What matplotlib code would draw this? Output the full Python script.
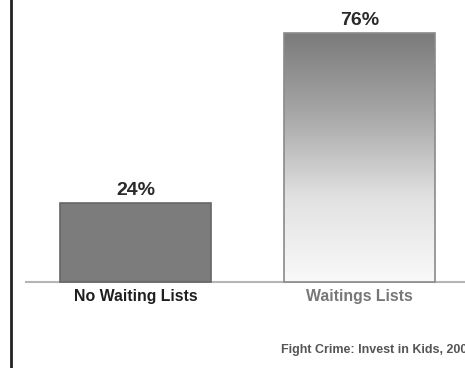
import matplotlib.pyplot as plt
import numpy as np
from matplotlib.colors import LinearSegmentedColormap

categories = ["No Waiting Lists", "Waitings Lists"]
values = [24, 76]
labels = ["24%", "76%"]
source = "Fight Crime: Invest in Kids, 2005"

fig = plt.figure(figsize=(4.65, 3.68), dpi=100)
ax = fig.add_axes([0, 0, 1, 1])
ax.set_xlim(-0.605, 1.471)
ax.set_ylim(-26.2, 86)
ax.axis("off")

x = np.arange(len(categories))
bars = ax.bar(x, values, width=0.674, color=["#7c7c7c", "none"],
              edgecolor=["#666666", "#8a8a8a"], linewidth=1.2, zorder=3)

# gradient fill for the second bar
b = bars[1]
cmap = LinearSegmentedColormap.from_list("g", ["#f9f9f9", "#e2e2e2", "#a8a8a8", "#7a7a7a"])
grad = np.linspace(0, 1, 256).reshape(-1, 1)
im = ax.imshow(grad, cmap=cmap, aspect="auto", origin="lower",
               extent=[b.get_x(), b.get_x() + b.get_width(), 0, b.get_height()], zorder=2)
im.set_clip_path(b)

ax.plot([-0.49, 1.471], [0, 0], color="#b5b5b5", lw=1.5, zorder=1)
ax.axvline(-0.556, color="#222222", lw=2)

for xi, v, lab in zip(x, values, labels):
    ax.text(xi, v + 1.3, lab, ha="center", va="bottom", fontsize=14,
            fontweight="bold", family="Liberation Sans", color="#2a2a2a")

colors = ["#1e1e1e", "#777777"]
for xi, cat, c in zip(x, categories, colors):
    ax.text(xi, -2.0, cat, ha="center", va="top", fontsize=11.4,
            fontweight="bold", family="Liberation Sans", color=c)

ax.text(-0.605 + 281 / 224, -20.7, source, ha="left", va="center", fontsize=9,
        fontweight="bold", family="Liberation Sans", color="#555555")

fig.savefig("out.png", dpi=100)
